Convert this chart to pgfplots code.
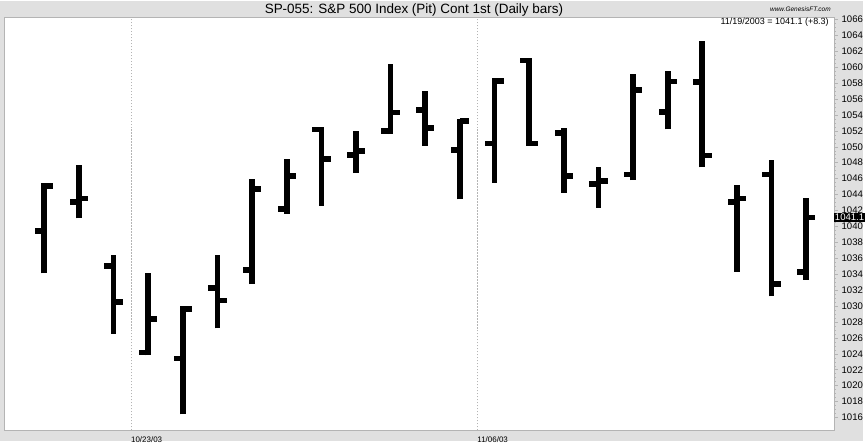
\documentclass[border=0pt]{standalone}
\usepackage{fontspec}
\setmainfont{Liberation Sans}
\usepackage{pgfplots}
\pgfplotsset{compat=1.18}
\usepackage{pgfplotstable}
\definecolor{bgray}{RGB}{224,224,224}
\definecolor{lgray}{RGB}{180,180,180}
\pgfplotstableread{
x o h l c
0 1039.4 1045.4 1034.1 1045.1
1 1043.1 1047.7 1041.0 1043.5
2 1035.0 1036.4 1026.5 1030.5
3 1024.15 1034.2 1023.8 1028.4
4 1023.4 1030.0 1016.4 1029.65
5 1032.3 1036.4 1027.2 1030.7
6 1034.5 1045.9 1032.75 1044.7
7 1042.2 1048.5 1041.6 1046.3
8 1052.15 1052.5 1042.6 1048.5
9 1049.0 1052.0 1046.7 1049.5
10 1051.95 1060.4 1051.6 1054.3
11 1054.6 1057.0 1050.1 1052.4
12 1049.6 1053.55 1043.4 1053.2
13 1050.4 1058.65 1045.5 1058.3
14 1060.85 1061.2 1050.1 1050.4
15 1051.75 1052.4 1044.2 1046.3
16 1045.3 1047.5 1042.35 1045.7
17 1046.5 1059.1 1045.8 1057.1
18 1054.4 1059.5 1052.2 1058.2
19 1058.1 1063.3 1047.4 1048.9
20 1043.1 1045.2 1034.3 1043.5
21 1046.5 1048.3 1031.2 1032.75
22 1034.3 1043.6 1033.3 1041.1
}\data
\begin{document}
\begin{tikzpicture}[x=1pt,y=1pt]
\fill[bgray] (0,0) rectangle (865,441);
\begin{axis}[
  at={(4.5pt,10.3pt)}, anchor=south west,
  scale only axis, width=831.5pt, height=413.5pt,
  xmin=-1.15, xmax=22.8, ymin=1014.4, ymax=1066.2,
  axis background/.style={fill=white},
  axis line style={lgray, line width=0.6pt},
  xtick={2.5,12.5}, xticklabels={10/23/03,11/06/03},
  xtick pos=bottom, xtick style={draw=none},
  xmajorgrids, major x grid style={dash pattern=on 1.5pt off 1.5pt, lgray, line width=0.5pt},
  xticklabel style={anchor=north west, inner sep=0pt, yshift=-2.5pt, xshift=0pt, font=\fontsize{8}{8}\selectfont},
  ytick={1016,1018,...,1066}, minor y tick num=3,
  ytick pos=right, yticklabel pos=right,
  tick align=outside,
  y tick style={lgray, line width=0.5pt},
  major tick length=4pt, minor tick length=2pt,
  yticklabel style={anchor=west, inner sep=0pt, xshift=3.5pt, font=\fontsize{9.6}{9.6}\selectfont},
  /pgf/number format/assume math mode=true,
  /pgf/number format/set thousands separator={},
  clip=false,
]
\addplot[draw=none, mark=none, forget plot,
  error bars/.cd, y dir=plus, y explicit, error mark=none,
  error bar style={draw=black, solid, line width=5.7pt}]
  table[x=x, y=l, y error plus expr=\thisrow{h}-\thisrow{l}] {\data};
\addplot[draw=none, mark=none, forget plot,
  error bars/.cd, x dir=minus, x fixed=0.265, error mark=none,
  error bar style={draw=black, solid, line width=5.7pt}]
  table[x=x, y=o] {\data};
\addplot[draw=none, mark=none, forget plot,
  error bars/.cd, x dir=plus, x fixed=0.265, error mark=none,
  error bar style={draw=black, solid, line width=5.7pt}]
  table[x=x, y=c] {\data};
\node[fill=black, text=white, anchor=west, inner sep=0.8pt, font=\fontsize{9.6}{9.6}\selectfont] at (axis cs:22.8,1041.1) {1041.1};
\end{axis}
\node[font=\fontsize{13.5}{13.5}\selectfont] at (415,432) {SP-055: S\&P 500 Index (Pit) Cont 1st (Daily bars)};
\node[anchor=east, inner sep=0pt, font=\fontsize{6.5}{6.5}\selectfont\itshape] at (833,432) {www.GenesisFT.com};
\node[anchor=east, inner sep=0pt, font=\fontsize{9}{9}\selectfont] at (831,419) {11/19/2003 = 1041.1 (+8.3)};
\end{tikzpicture}
\end{document}
